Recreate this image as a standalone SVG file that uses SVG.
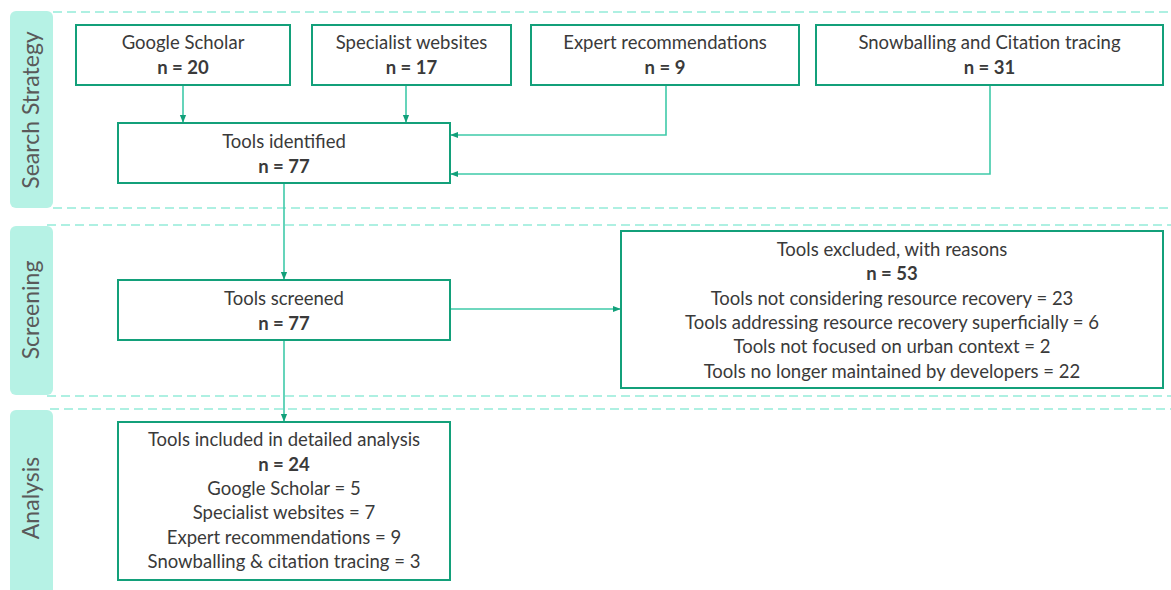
<svg xmlns="http://www.w3.org/2000/svg" width="1171" height="590" viewBox="0 0 1171 590">
<defs>
<marker id="ah" viewBox="0 0 10 10" refX="9" refY="5" markerWidth="8" markerHeight="8" markerUnits="userSpaceOnUse" orient="auto">
<path d="M0,1 L10,5 L0,9 z" fill="#12a07a"/>
</marker>
</defs>
<style>
.box{fill:#fff;stroke:#13a07a;stroke-width:2}
.lane{fill:#b6f2e5}
.dash{stroke:#aef0e2;stroke-width:2;stroke-dasharray:9 5;fill:none}
.t{font-family:Lato,"Liberation Sans",Arial,sans-serif;font-size:18.5px;fill:#3a3a3a;text-anchor:middle}
.b{font-weight:bold}
.lt{font-family:Lato,"Liberation Sans",Arial,sans-serif;font-size:23px;fill:#5a5a5a;text-anchor:middle}
.c{fill:none;stroke:#3fcaa9;stroke-width:1.6}
</style>
<g id="lanes">
<rect class="lane" x="10" y="11" width="43" height="197" rx="6"/>
<rect class="lane" x="10" y="226" width="43" height="169" rx="6"/>
<rect class="lane" x="10" y="410" width="43" height="186" rx="6"/>
<line class="dash" x1="53" y1="12" x2="1171" y2="12"/>
<line class="dash" x1="53" y1="208" x2="1171" y2="208"/>
<line class="dash" x1="47" y1="225" x2="1171" y2="225"/>
<line class="dash" x1="47" y1="396" x2="1171" y2="396"/>
<line class="dash" x1="50" y1="409" x2="1171" y2="409"/>
<text class="lt" transform="translate(39,110) rotate(-90)">Search Strategy</text>
<text class="lt" transform="translate(39,310) rotate(-90)">Screening</text>
<text class="lt" transform="translate(39,498) rotate(-90)">Analysis</text>
</g>
<g id="connectors">
<line class="c" x1="183" y1="85" x2="183" y2="122" marker-end="url(#ah)"/>
<line class="c" x1="406" y1="85" x2="406" y2="122" marker-end="url(#ah)"/>
<polyline class="c" points="666,85 666,135 451,135" marker-end="url(#ah)"/>
<polyline class="c" points="990,85 990,174 451,174" marker-end="url(#ah)"/>
<line class="c" x1="284" y1="184" x2="284" y2="279" marker-end="url(#ah)"/>
<line class="c" x1="451" y1="309" x2="620" y2="309" marker-end="url(#ah)"/>
<line class="c" x1="284" y1="341" x2="284" y2="421" marker-end="url(#ah)"/>
</g>
<g id="google-scholar">
<rect class="box" x="76" y="25" width="214" height="60"/>
<text class="t" x="183" y="49">Google Scholar</text>
<text class="t b" x="183" y="74">n = 20</text>
</g>
<g id="specialist-websites">
<rect class="box" x="312" y="25" width="199" height="60"/>
<text class="t" x="411.5" y="49">Specialist websites</text>
<text class="t b" x="411.5" y="74">n = 17</text>
</g>
<g id="expert-recommendations">
<rect class="box" x="531" y="25" width="268" height="60"/>
<text class="t" x="665" y="49">Expert recommendations</text>
<text class="t b" x="665" y="74">n = 9</text>
</g>
<g id="snowballing">
<rect class="box" x="816" y="25" width="347" height="60"/>
<text class="t" x="989.5" y="49">Snowballing and Citation tracing</text>
<text class="t b" x="989.5" y="74">n = 31</text>
</g>
<g id="tools-identified">
<rect class="box" x="118" y="123" width="332" height="60"/>
<text class="t" x="284" y="148">Tools identified</text>
<text class="t b" x="284" y="173">n = 77</text>
</g>
<g id="tools-screened">
<rect class="box" x="118" y="280" width="332" height="60"/>
<text class="t" x="284" y="305">Tools screened</text>
<text class="t b" x="284" y="330">n = 77</text>
</g>
<g id="tools-excluded">
<rect class="box" x="621" y="231" width="542" height="157"/>
<text class="t" x="892" y="256">Tools excluded, with reasons</text>
<text class="t b" x="892" y="280">n = 53</text>
<text class="t" x="892" y="305">Tools not considering resource recovery = 23</text>
<text class="t" x="892" y="329">Tools addressing resource recovery superficially = 6</text>
<text class="t" x="892" y="353">Tools not focused on urban context = 2</text>
<text class="t" x="892" y="378">Tools no longer maintained by developers = 22</text>
</g>
<g id="tools-included">
<rect class="box" x="118" y="422" width="332" height="158"/>
<text class="t" x="284" y="446">Tools included in detailed analysis</text>
<text class="t b" x="284" y="471">n = 24</text>
<text class="t" x="284" y="495">Google Scholar = 5</text>
<text class="t" x="284" y="519">Specialist websites = 7</text>
<text class="t" x="284" y="544">Expert recommendations = 9</text>
<text class="t" x="284" y="568">Snowballing &amp; citation tracing = 3</text>
</g>
</svg>
